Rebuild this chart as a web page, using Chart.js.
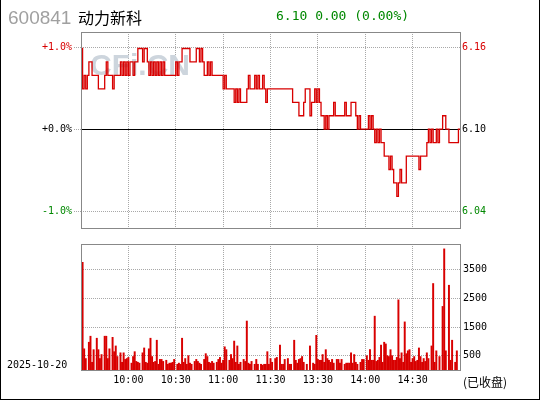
<!DOCTYPE html>
<html><head><meta charset="utf-8">
<script src="https://cdn.jsdelivr.net/npm/chart.js@4.4.0/dist/chart.umd.min.js"></script>
<style>
html,body{margin:0;padding:0;background:#fff;}
#wrap{position:relative;width:540px;height:400px;overflow:hidden;background:#fff;}
#frame{position:absolute;left:0;top:0;width:538px;height:399px;border-left:1px solid #000;border-right:1px solid #000;border-bottom:1px solid #000;pointer-events:none;}
.t{position:absolute;white-space:nowrap;line-height:1;}
canvas{position:absolute;left:0;}
</style></head>
<body><div id="wrap">
<canvas id="c1" width="540" height="236" style="top:0px"></canvas>
<canvas id="c2" width="540" height="165" style="top:235px"></canvas>
<span class="t" id="code" style="left:8px;top:7px;font:19px 'Liberation Sans';color:#a0a0a0;"></span>
<span class="t" id="name" style="left:78px;top:5px;font:16px 'Noto Sans CJK SC';color:#000;"></span>
<span class="t" id="quote" style="left:276px;top:8px;font:13px 'DejaVu Sans Mono';color:#008800;"></span>
<span class="t" id="date" style="left:7px;top:359px;font:10px 'DejaVu Sans Mono';color:#000;"></span>
<span class="t" id="status" style="left:463px;top:373px;font:12px 'Noto Sans CJK SC';color:#000;"></span>
<div id="frame"></div>
</div>
<script>
const stockCode = '600841';
const stockName = '动力新科';
const tradeDate = '2025-10-20';
const statusText = '(已收盘)';
const watermark = 'CFi.CN';
const prevClose = 6.10;
const lastPrice = 6.10;
const priceChange = 0.00;
const pctChange = 0.00;

const timeTickMinutes = [0, 30, 60, 90, 120, 150, 180, 210, 240];
const timeTickLabels = ['', '10:00', '10:30', '11:00', '11:30', '13:30', '14:00', '14:30', ''];
const pctTicks = [-1, 0, 1];
const volTicks = [500, 1500, 2500, 3500];

// price change points (minute index from 9:30, price from that minute on)
const priceMinutes = [0,1,2,3,4,5,7,11,15,16,17,20,21,25,26,27,28,29,30,31,33,34,36,39,40,42,43,44,45,46,47,48,49,50,51,52,53,60,61,62,64,69,73,75,76,77,78,80,81,82,83,90,91,92,97,98,99,100,101,105,106,107,110,111,112,113,115,116,117,118,134,138,141,142,145,146,148,149,150,151,152,154,155,156,157,160,161,167,168,171,174,175,176,177,182,183,184,185,186,187,188,189,190,192,195,196,197,198,200,201,202,203,206,214,215,219,220,221,222,223,225,226,227,229,231,233,239,240];
const priceValues = [6.16,6.13,6.14,6.13,6.14,6.15,6.14,6.13,6.14,6.15,6.14,6.13,6.14,6.15,6.14,6.15,6.14,6.15,6.14,6.15,6.14,6.15,6.16,6.15,6.16,6.15,6.14,6.15,6.14,6.15,6.14,6.15,6.14,6.15,6.14,6.15,6.14,6.15,6.14,6.15,6.16,6.15,6.16,6.15,6.16,6.15,6.14,6.15,6.14,6.15,6.14,6.13,6.14,6.13,6.12,6.13,6.12,6.13,6.12,6.13,6.14,6.13,6.14,6.13,6.14,6.13,6.14,6.13,6.12,6.13,6.12,6.11,6.12,6.13,6.11,6.12,6.13,6.12,6.13,6.12,6.11,6.10,6.11,6.10,6.11,6.12,6.11,6.12,6.11,6.12,6.11,6.10,6.11,6.10,6.11,6.10,6.11,6.10,6.09,6.10,6.09,6.10,6.09,6.08,6.07,6.08,6.07,6.06,6.05,6.06,6.07,6.06,6.08,6.07,6.08,6.09,6.10,6.09,6.10,6.09,6.10,6.09,6.10,6.11,6.10,6.09,6.10,6.10];

// per-minute volume bars (minute index, volume in lots)
const volMinutes = [0,1,2,3,5,6,7,8,10,11,12,13,15,16,17,18,20,21,22,23,25,26,27,28,29,30,32,33,34,35,36,37,39,40,41,42,43,44,45,46,47,48,49,50,51,52,54,55,56,57,58,59,61,62,63,64,65,66,67,68,69,70,72,73,74,75,76,78,79,80,81,82,83,84,86,87,88,89,90,91,92,94,95,96,97,98,99,100,101,103,104,105,106,107,108,110,111,112,114,115,116,117,118,119,120,121,123,124,126,127,128,129,131,132,133,135,136,137,138,139,140,141,143,145,147,148,149,150,151,152,153,154,155,156,157,158,159,160,162,163,164,165,167,168,169,170,171,172,173,174,175,177,178,179,181,182,183,184,185,186,187,188,189,190,191,192,193,194,195,196,197,198,199,200,201,202,203,204,205,206,207,208,209,210,211,212,213,214,215,216,217,218,219,220,222,223,224,225,227,229,230,231,233,234,235,237,238];
const volValues = [470,3760,740,400,970,1180,270,710,1110,710,400,540,1180,1180,400,740,1140,640,840,470,600,270,600,370,400,440,240,470,640,300,270,240,600,770,270,240,740,1110,470,270,300,1040,200,370,370,300,340,200,240,240,270,370,200,240,200,1110,270,400,200,500,240,200,300,370,300,240,200,370,570,470,270,240,300,240,270,370,440,240,340,810,710,340,540,400,1010,270,840,200,270,370,300,1710,240,200,300,200,370,200,200,170,200,200,640,200,400,270,400,440,870,200,200,370,400,200,200,1040,340,240,370,400,470,270,200,840,240,200,1210,370,340,340,540,270,710,400,340,270,370,240,370,370,240,370,200,240,240,240,600,240,540,270,200,270,370,370,500,340,710,340,340,1880,300,340,440,870,270,970,910,500,470,710,500,340,340,440,2450,400,600,270,1680,570,670,710,270,400,470,300,340,770,470,270,400,300,600,400,840,3020,270,670,470,2220,4230,670,2960,340,1040,270,670];

const RED = '#d80000', GREEN = '#008800', GRID = '#a8a8a8', FRAME = '#888888';
const MONO = "'DejaVu Sans Mono'";
const yMin = prevClose * (1 - 0.01205), yMax = prevClose * (1 + 0.01185);

document.getElementById('code').textContent = stockCode;
document.getElementById('name').textContent = stockName;
document.getElementById('quote').textContent = lastPrice.toFixed(2) + ' ' + priceChange.toFixed(2) + ' (' + pctChange.toFixed(2) + '%)';
document.getElementById('date').textContent = tradeDate;
document.getElementById('status').textContent = statusText;

function pctColor(p) { return p > 0 ? RED : (p < 0 ? GREEN : '#000'); }

const framePlugin = {
  id: 'panelFrame',
  beforeDatasetsDraw(chart, args, opts) {
    if (!opts.mark) return;
    const ctx = chart.ctx, a = chart.chartArea;
    ctx.save();
    ctx.font = "bold 30px 'Liberation Sans'";
    ctx.fillStyle = '#cdd5dd';
    ctx.textBaseline = 'alphabetic';
    ctx.fillText(opts.mark, a.left + 9, a.top + 43);
    ctx.restore();
  },
  afterDraw(chart) {
    const ctx = chart.ctx, a = chart.chartArea;
    ctx.save();
    ctx.strokeStyle = FRAME;
    ctx.lineWidth = 1;
    ctx.strokeRect(Math.round(a.left) + 0.5, Math.round(a.top) + 0.5, Math.round(a.right - a.left), Math.round(a.bottom - a.top));
    ctx.restore();
  }
};

Chart.defaults.font.family = MONO;
Chart.defaults.font.size = 10;
Chart.defaults.color = '#000';

const pctTickBuilder = s => { s.ticks = pctTicks.map(p => ({ value: prevClose * (1 + p / 100) })); };
const timeTickBuilder = s => { s.ticks = timeTickMinutes.map(v => ({ value: v })); };

new Chart(document.getElementById('c1'), {
  type: 'line',
  data: {
    datasets: [{
      data: priceMinutes.map((m, i) => ({ x: m, y: priceValues[i] })),
      borderColor: RED, borderWidth: 1.3, pointRadius: 0, stepped: true, tension: 0,
      xAxisID: 'x', yAxisID: 'y'
    }]
  },
  options: {
    responsive: false, animation: false, devicePixelRatio: 1,
    layout: { padding: { top: 32, bottom: 8, left: 0, right: 0 } },
    plugins: { legend: { display: false }, tooltip: { enabled: false }, panelFrame: { mark: watermark } },
    scales: {
      x: {
        type: 'linear', min: 0, max: 240, afterBuildTicks: timeTickBuilder,
        ticks: { display: false }, grid: { color: GRID, drawTicks: false },
        border: { display: false, dash: [1, 1] }, afterFit: s => { s.height = 0; }
      },
      y: {
        position: 'left', min: yMin, max: yMax, afterBuildTicks: pctTickBuilder,
        ticks: {
          callback: (v, i) => (pctTicks[i] >= 0 ? '+' : '') + pctTicks[i].toFixed(1) + '%',
          color: c => pctColor(pctTicks[c.index]), padding: 2
        },
        grid: { color: c => pctTicks[c.index] === 0 ? '#000' : GRID, tickColor: GRID, tickLength: 7, tickBorderDash: [1, 1] },
        border: { display: false, dash: c => pctTicks[c.index] === 0 ? [] : [1, 1] },
        afterFit: s => { s.width = 81; }
      },
      y2: {
        position: 'right', min: yMin, max: yMax, afterBuildTicks: pctTickBuilder,
        ticks: {
          callback: (v, i) => (prevClose * (1 + pctTicks[i] / 100)).toFixed(2),
          color: c => pctColor(pctTicks[c.index]), padding: 2
        },
        grid: { drawOnChartArea: false, drawTicks: false },
        border: { display: false },
        afterFit: s => { s.width = 80; }
      }
    }
  },
  plugins: [framePlugin]
});

new Chart(document.getElementById('c2'), {
  type: 'bar',
  data: {
    datasets: [{
      data: volMinutes.map((m, i) => ({ x: m, y: volValues[i] })),
      backgroundColor: RED, borderWidth: 0, barThickness: 1.3
    }]
  },
  options: {
    responsive: false, animation: false, devicePixelRatio: 1,
    layout: { padding: { top: 3, bottom: 0, left: 81, right: 0 } },
    plugins: { legend: { display: false }, tooltip: { enabled: false } },
    scales: {
      x: {
        type: 'linear', min: 0, max: 240, offset: false, afterBuildTicks: timeTickBuilder,
        ticks: { callback: (v, i) => timeTickLabels[i], padding: 4, maxRotation: 0, autoSkip: false, color: '#000' },
        grid: { color: GRID, drawTicks: false, offset: false },
        border: { display: false, dash: [1, 1] }, afterFit: s => { s.height = 30; }
      },
      y: {
        position: 'right', min: 0, max: 4400, afterBuildTicks: s => { s.ticks = volTicks.map(v => ({ value: v })); },
        ticks: { callback: v => String(v), padding: 3, color: '#000' },
        grid: { color: GRID, drawTicks: false },
        border: { display: false, dash: [1, 1] },
        afterFit: s => { s.width = 80; }
      }
    }
  },
  plugins: [framePlugin]
});
</script>
</body></html>
